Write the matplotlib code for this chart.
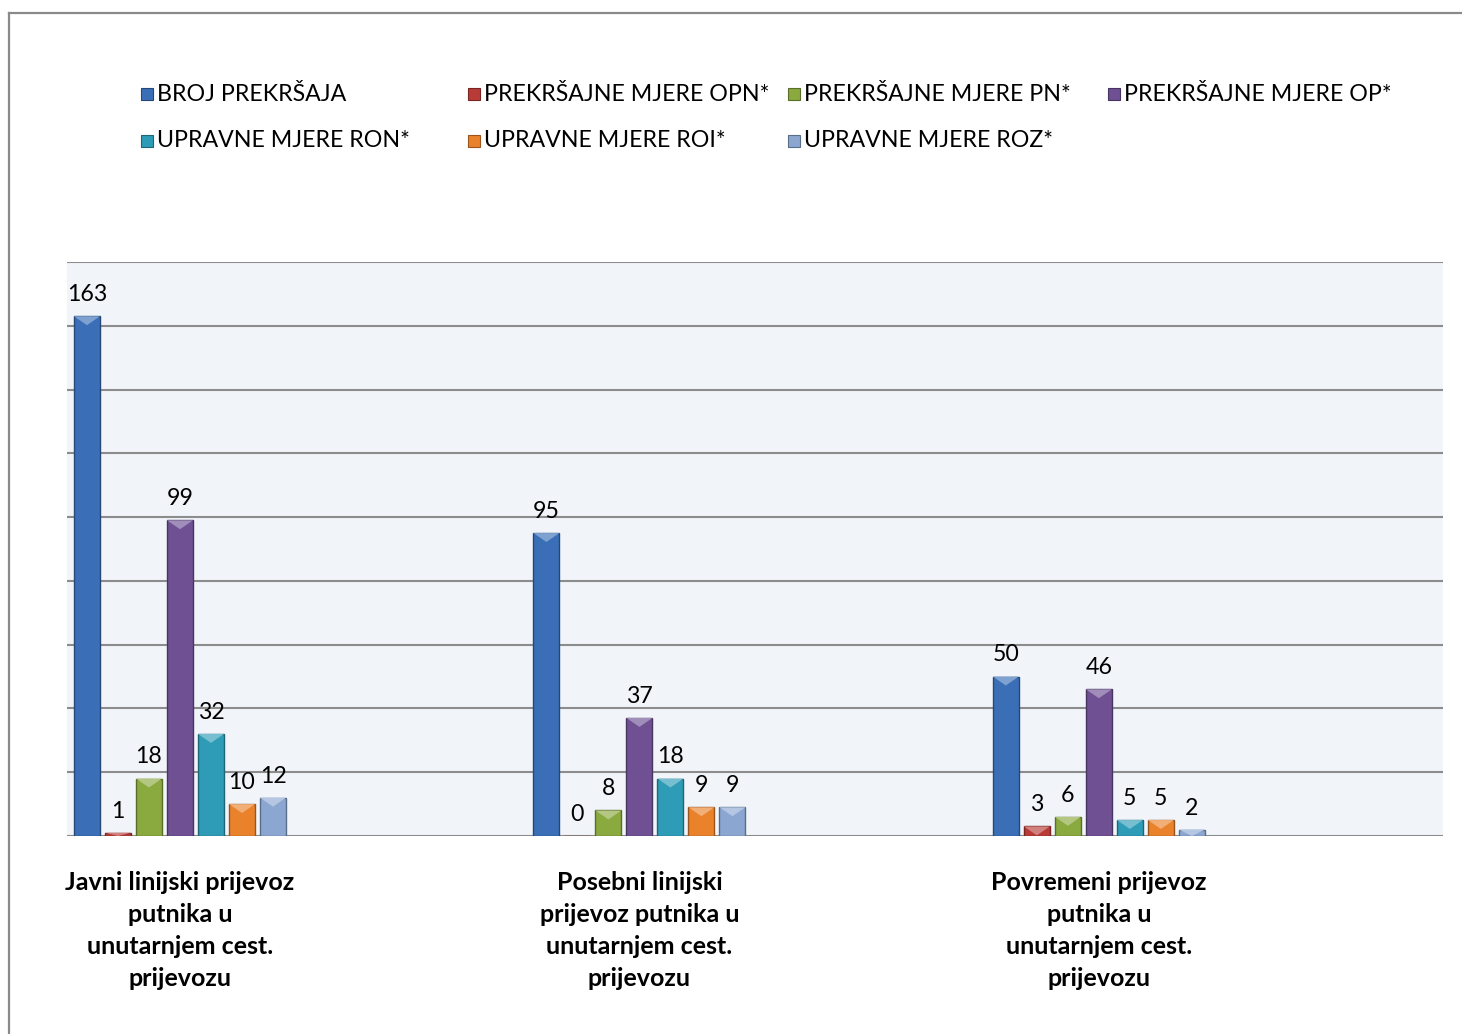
import matplotlib.pyplot as plt
import numpy as np
from matplotlib.patches import Rectangle, Polygon
from matplotlib.lines import Line2D
from matplotlib.colors import to_rgb

plt.rcParams["font.family"] = ["Lato", "DejaVu Sans"]

# ===============================
categories = [
    "Javni linijski prijevoz\nputnika u\nunutarnjem cest.\nprijevozu",
    "Posebni linijski\nprijevoz putnika u\nunutarnjem cest.\nprijevozu",
    "Povremeni prijevoz\nputnika u\nunutarnjem cest.\nprijevozu",
]
series = [
    "BROJ PREKRŠAJA",
    "PREKRŠAJNE MJERE OPN*",
    "PREKRŠAJNE MJERE PN*",
    "PREKRŠAJNE MJERE OP*",
    "UPRAVNE MJERE RON*",
    "UPRAVNE MJERE ROI*",
    "UPRAVNE MJERE ROZ*",
]
broj = [163, 95, 50]
opn = [1, 0, 3]
pn = [18, 8, 6]
op = [99, 37, 46]
ron = [32, 18, 5]
roi = [10, 9, 5]
roz = [12, 9, 2]
values = [broj, opn, pn, op, ron, roi, roz]

colors = ["#3a6fb7", "#b93b38", "#8aa93f", "#6f5093", "#2e9cb6", "#ea822c", "#8ba7d1"]

# ===============================
fig = plt.figure(figsize=(14.62, 10.34), dpi=100)
ax = fig.add_axes([0.0458, 0.1915, 0.9412, 0.5551])
ax.set_facecolor("#f1f5fa")

x = np.arange(len(categories))
pitch = 0.0675
width = 0.0566

def shade(c, f):
    r, g, b = to_rgb(c)
    if f > 0:
        return (r + (1 - r) * f, g + (1 - g) * f, b + (1 - b) * f)
    return (r * (1 + f), g * (1 + f), b * (1 + f))

for i, (name, vals) in enumerate(zip(series, values)):
    pos = x + (i - 3) * pitch
    bars = ax.bar(pos, vals, width, color=colors[i], edgecolor=shade(colors[i], -0.35),
                  linewidth=1.0, zorder=3)
    for b in bars:
        h = b.get_height()
        if h <= 0:
            continue
        th = min(2.8, h)
        x0, w = b.get_x(), b.get_width()
        tri = Polygon([(x0, h), (x0 + w, h), (x0 + w / 2, h - th)], closed=True,
                      facecolor=shade(colors[i], 0.35), edgecolor="none", zorder=4)
        ax.add_patch(tri)
    for p, v in zip(pos, vals):
        ax.annotate(str(v), (p, v), xytext=(0, 8), textcoords="offset points",
                    ha="center", va="bottom", fontsize=16.7, color="#000000")

ax.set_xlim(-0.246, 2.749)
ax.set_ylim(0, 180)
ax.set_yticks(np.arange(0, 181, 20))
ax.set_yticklabels([])
ax.tick_params(axis="y", length=0)
ax.grid(axis="y", color="#8c8c8c", linewidth=1.5, zorder=0)
ax.set_axisbelow(True)
for s in ["left", "right", "top", "bottom"]:
    ax.spines[s].set_visible(False)

ax.set_xticks(x)
ax.set_xticklabels(categories, fontsize=18, fontweight="bold", linespacing=1.47)
ax.tick_params(axis="x", length=0, pad=25)

# legend, laid out like Excel
leg_x = [0.0965, 0.3200, 0.5390, 0.7580]
leg_y = [0.909, 0.864]
for i, name in enumerate(series):
    col, row = i % 4, i // 4
    fig.patches.append(Rectangle((leg_x[col], leg_y[row] - 0.0058), 0.0080, 0.0116,
                                 transform=fig.transFigure, facecolor=colors[i],
                                 edgecolor=shade(colors[i], -0.35), linewidth=0.8))
    fig.text(leg_x[col] + 0.0110, leg_y[row], name, fontsize=16.7, va="center", ha="left")

# outer frame (left and top only visible)
fig.add_artist(Line2D([0.0062, 0.0062], [0.0, 0.9875], color="#8a8a8a", linewidth=1.6,
                      transform=fig.transFigure))
fig.add_artist(Line2D([0.0062, 1.0], [0.9875, 0.9875], color="#8a8a8a", linewidth=1.6,
                      transform=fig.transFigure))

fig.savefig("out.png", dpi=100)
